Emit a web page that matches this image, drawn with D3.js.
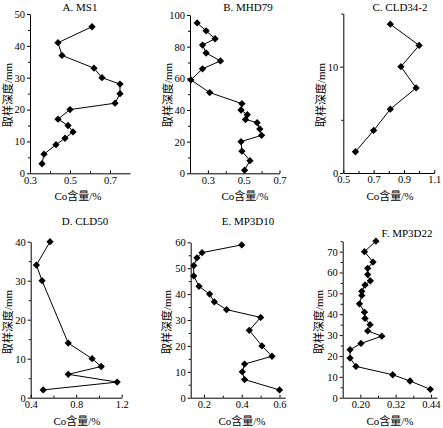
<!DOCTYPE html>
<html>
<head>
<meta charset="utf-8">
<script src="https://cdn.jsdelivr.net/npm/d3@7"></script>
<style>
  body { margin: 0; background: #fff; }
  text { font-family: "Liberation Serif", "Noto Sans CJK SC", serif; fill: #000; }
  .axis path, .axis line { stroke: #000; stroke-width: 1; }
</style>
</head>
<body>
<div id="chart-container"></div>
<script>
// A. MS1
let msDepth = [46, 41, 37, 33, 30, 28, 25, 22, 20, 17, 15, 13, 11, 9, 6, 3];
let msCo = [0.61, 0.44, 0.46, 0.62, 0.66, 0.75, 0.75, 0.725, 0.50, 0.44, 0.49, 0.515, 0.475, 0.43, 0.37, 0.36];
// B. MHD79
let mhdDepth = [95, 90, 85, 81, 76, 71, 66, 59, 51, 44, 40, 37, 34, 32, 28, 24, 20, 14, 8, 2];
let mhdCo = [0.24, 0.29, 0.34, 0.27, 0.29, 0.37, 0.27, 0.205, 0.31, 0.49, 0.485, 0.52, 0.51, 0.575, 0.59, 0.60, 0.485, 0.49, 0.535, 0.505];
// C. CLD34-2
let cld34Depth = [14, 12, 10, 8, 6, 4, 2];
let cld34Co = [0.81, 1.0, 0.88, 0.98, 0.81, 0.70, 0.58];
// D. CLD50
let cld50Depth = [40, 34, 30, 14, 10, 8, 6, 4, 2];
let cld50Co = [0.57, 0.45, 0.50, 0.73, 0.94, 1.02, 0.73, 1.16, 0.51];
// E. MP3D10
let mp10Depth = [59, 56, 54, 51, 47, 43, 40, 37, 34, 31, 26, 20, 16, 13, 10, 7, 3];
let mp10Co = [0.40, 0.19, 0.163, 0.146, 0.146, 0.174, 0.23, 0.255, 0.32, 0.50, 0.44, 0.507, 0.56, 0.415, 0.403, 0.415, 0.60];
// F. MP3D22
let mp22Depth = [75, 70, 65, 62, 59, 56, 54, 51, 49, 45, 41, 38, 35, 32, 29.5, 26, 23, 19, 15, 11, 8, 4];
let mp22Co = [0.253, 0.214, 0.243, 0.225, 0.225, 0.234, 0.216, 0.205, 0.205, 0.197, 0.214, 0.216, 0.233, 0.225, 0.273, 0.202, 0.165, 0.165, 0.185, 0.31, 0.369, 0.438];

// tick labels (labelled ticks) and minor tick positions
let msXTicks = [0.3, 0.5, 0.7], msXMinor = [0.4, 0.6];
let msYTicks = [0, 10, 20, 30, 40, 50], msYMinor = [5, 15, 25, 35, 45];
let mhdXTicks = [0.3, 0.5, 0.7], mhdXMinor = [0.4, 0.6];
let mhdYTicks = [0, 20, 40, 60, 80, 100], mhdYMinor = [10, 30, 50, 70, 90];
let cld34XTicks = [0.5, 0.7, 0.9, 1.1], cld34XMinor = [0.6, 0.8, 1.0];
let cld34YTicks = [0, 10], cld34YMinor = [5, 15];
let cld50XTicks = [0.4, 0.8, 1.2], cld50XMinor = [0.6, 1.0];
let cld50YTicks = [0, 10, 20, 30, 40], cld50YMinor = [5, 15, 25, 35];
let mp10XTicks = [0.2, 0.4, 0.6], mp10XMinor = [0.3, 0.5];
let mp10YTicks = [0, 10, 20, 30, 40, 50, 60], mp10YMinor = [5, 15, 25, 35, 45, 55];
let mp22XTicks = [0.2, 0.32, 0.44], mp22XMinor = [0.26, 0.38];
let mp22YTicks = [0, 10, 20, 30, 40, 50, 60, 70], mp22YMinor = [5, 15, 25, 35, 45, 55, 65, 75];

let xTitle = "Co含量/%";
let yTitle = "取样深度/mm";

let panels = [
  { title: "A. MS1", depth: msDepth, co: msCo, xd: [0.3, 0.8], yd: [0, 50], xr: [30, 130], yr: [173.3, 14],
    xt: msXTicks, xm: msXMinor, yt: msYTicks, ym: msYMinor, fmtX: d3.format(".1f"), tx: 80, ty: 11, lx: 78, ly: 200, yx: 8, yy: 95 },
  { title: "B. MHD79", depth: mhdDepth, co: mhdCo, xd: [0.2, 0.7], yd: [0, 100], xr: [190, 279.5], yr: [173.3, 15],
    xt: mhdXTicks, xm: mhdXMinor, yt: mhdYTicks, ym: mhdYMinor, fmtX: d3.format(".1f"), tx: 248, ty: 11, lx: 245, ly: 200, yx: 168, yy: 95 },
  { title: "C. CLD34-2", depth: cld34Depth, co: cld34Co, xd: [0.5, 1.1], yd: [0, 15], xr: [343.3, 434.3], yr: [173, 13.5],
    xt: cld34XTicks, xm: cld34XMinor, yt: cld34YTicks, ym: cld34YMinor, fmtX: d3.format(".1f"), tx: 400, ty: 11, lx: 390, ly: 200, yx: 321, yy: 95 },
  { title: "D. CLD50", depth: cld50Depth, co: cld50Co, xd: [0.4, 1.2], yd: [0, 40], xr: [30.7, 121.7], yr: [397.7, 241.7],
    xt: cld50XTicks, xm: cld50XMinor, yt: cld50YTicks, ym: cld50YMinor, fmtX: d3.format(".1f"), tx: 85, ty: 225, lx: 77, ly: 425, yx: 8, yy: 322 },
  { title: "E. MP3D10", depth: mp10Depth, co: mp10Co, xd: [0.13, 0.63], yd: [0, 60], xr: [190.7, 285.2], yr: [397.7, 242.3],
    xt: mp10XTicks, xm: mp10XMinor, yt: mp10YTicks, ym: mp10YMinor, fmtX: d3.format(".1f"), tx: 248, ty: 225, lx: 242, ly: 425, yx: 167, yy: 322 },
  { title: "F. MP3D22", depth: mp22Depth, co: mp22Co, xd: [0.14, 0.46], yd: [0, 75], xr: [342.7, 436.8], yr: [397.7, 241.2],
    xt: mp22XTicks, xm: mp22XMinor, yt: mp22YTicks, ym: mp22YMinor, fmtX: d3.format(".2f"), tx: 407, ty: 237, lx: 390, ly: 425, yx: 319, yy: 322 },
];

var svg = d3
  .select("#chart-container")
  .append("svg")
  .attr("width", 443)
  .attr("height", 428);

let diamond = d3.symbol().type(d3.symbolDiamond2 || d3.symbolDiamond).size(34);

panels.forEach((p) => {
  let xScale = d3.scaleLinear().domain(p.xd).range(p.xr);
  let yScale = d3.scaleLinear().domain(p.yd).range(p.yr);
  let g = svg.append("g");

  // X axis: ticks point inward (up)
  g.append("g")
    .attr("class", "axis")
    .attr("transform", "translate(0," + p.yr[0] + ")")
    .call(d3.axisBottom(xScale).tickValues(p.xt).tickFormat(p.fmtX).tickSizeInner(-3).tickSizeOuter(0).tickPadding(3))
    .call((a) => a.selectAll("text").style("font-size", "10.5px"));

  g.append("g")
    .attr("class", "axis")
    .attr("transform", "translate(0," + p.yr[0] + ")")
    .call(d3.axisBottom(xScale).tickValues(p.xm).tickFormat("").tickSizeInner(-2).tickSizeOuter(0))
    .call((a) => a.select(".domain").remove());

  // Y axis: ticks point outward (left)
  g.append("g")
    .attr("class", "axis")
    .attr("transform", "translate(" + p.xr[0] + ",0)")
    .call(d3.axisLeft(yScale).tickValues(p.yt).tickSize(3).tickSizeOuter(0).tickPadding(2))
    .call((a) => a.selectAll("text").style("font-size", "10.5px"));

  g.append("g")
    .attr("class", "axis")
    .attr("transform", "translate(" + p.xr[0] + ",0)")
    .call(d3.axisLeft(yScale).tickValues(p.ym).tickFormat("").tickSize(2).tickSizeOuter(0))
    .call((a) => a.select(".domain").remove());

  // line
  let pts = p.depth.map((d, i) => [p.co[i], d]);
  g.append("path")
    .datum(pts)
    .attr("fill", "none")
    .attr("stroke", "#000")
    .attr("stroke-width", 1)
    .attr("d", d3.line().x((d) => xScale(d[0])).y((d) => yScale(d[1])));

  // markers
  g.selectAll(".dot")
    .data(pts)
    .enter()
    .append("path")
    .attr("class", "dot")
    .attr("d", diamond)
    .attr("transform", (d) => "translate(" + xScale(d[0]) + "," + yScale(d[1]) + ")")
    .style("fill", "#000");

  // panel title
  g.append("text")
    .attr("x", p.tx)
    .attr("y", p.ty)
    .style("text-anchor", "middle")
    .style("font-size", "11px")
    .text(p.title);

  // x label
  g.append("text")
    .attr("x", p.lx)
    .attr("y", p.ly)
    .style("text-anchor", "middle")
    .style("font-size", "11px")
    .text(xTitle);

  // y label
  g.append("text")
    .attr("transform", "translate(" + p.yx + "," + p.yy + ") rotate(-90)")
    .attr("dy", "0.35em")
    .style("text-anchor", "middle")
    .style("font-size", "11px")
    .text(yTitle);
});
</script>
</body>
</html>
